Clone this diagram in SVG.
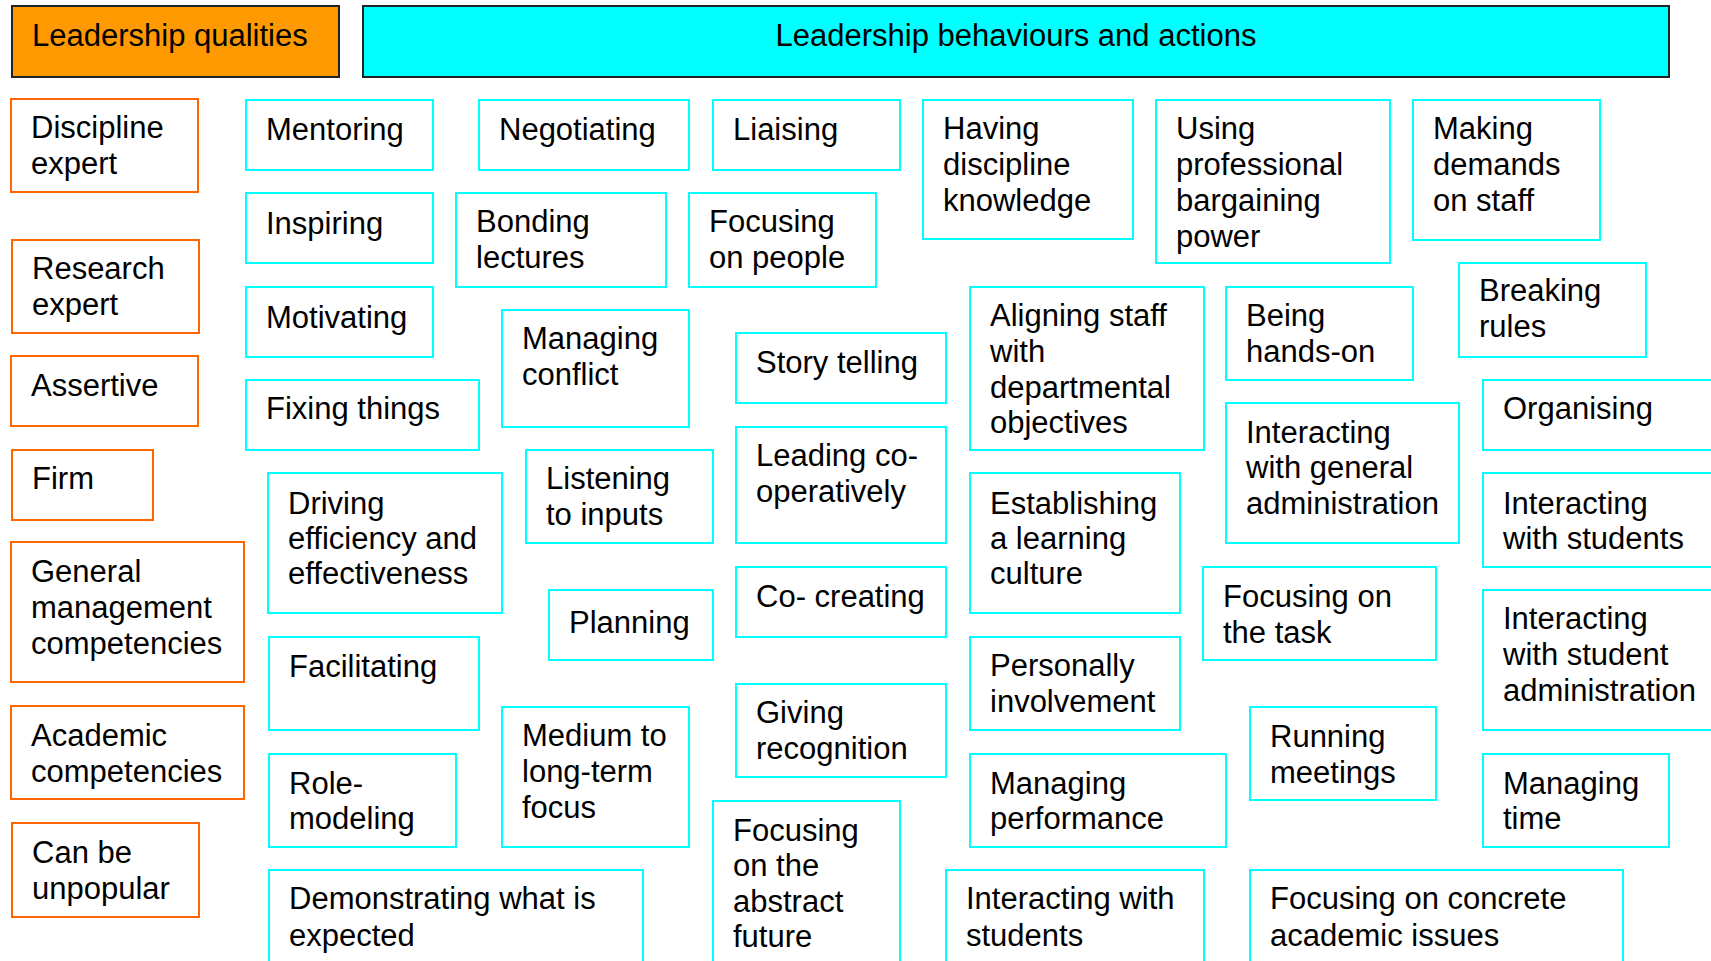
<svg xmlns="http://www.w3.org/2000/svg" width="1711" height="961" viewBox="0 0 1711 961">
<style>
.q{fill:#fff;stroke:#ff6600;stroke-width:2}
.b{fill:#fff;stroke:#00ffff;stroke-width:2}
.h{stroke:#222;stroke-width:2}
text{font-family:"Liberation Sans",Arial,sans-serif;font-size:31px;fill:#000;transform:translateY(1px)}
</style>
<rect width="1711" height="961" fill="#fff"/>
<g id="hdr-qualities"><rect class="h" x="12" y="6" width="327" height="71" fill="#ff9900"/><text x="32" y="45">Leadership qualities</text></g>
<g id="hdr-behaviours"><rect class="h" x="363" y="6" width="1306" height="71" fill="#00ffff"/><text x="1016" y="45" text-anchor="middle">Leadership behaviours and actions</text></g>

<g id="q1"><rect class="q" x="11" y="99" width="187" height="93"/><text x="31" y="137">Discipline<tspan x="31" y="173">expert</tspan></text></g>
<g id="q2"><rect class="q" x="12" y="240" width="187" height="93"/><text x="32" y="278">Research<tspan x="32" y="314">expert</tspan></text></g>
<g id="q3"><rect class="q" x="11" y="356" width="187" height="70"/><text x="31" y="395">Assertive</text></g>
<g id="q4"><rect class="q" x="12" y="450" width="141" height="70"/><text x="32" y="488">Firm</text></g>
<g id="q5"><rect class="q" x="11" y="542" width="233" height="140"/><text x="31" y="581">General<tspan x="31" y="617">management</tspan><tspan x="31" y="653">competencies</tspan></text></g>
<g id="q6"><rect class="q" x="11" y="706" width="233" height="93"/><text x="31" y="745">Academic<tspan x="31" y="781">competencies</tspan></text></g>
<g id="q7"><rect class="q" x="12" y="823" width="187" height="94"/><text x="32" y="862">Can be<tspan x="32" y="898">unpopular</tspan></text></g>

<g id="b-mentoring"><rect class="b" x="246" y="100" width="187" height="70"/><text x="266" y="139">Mentoring</text></g>
<g id="b-inspiring"><rect class="b" x="246" y="193" width="187" height="70"/><text x="266" y="233">Inspiring</text></g>
<g id="b-motivating"><rect class="b" x="246" y="287" width="187" height="70"/><text x="266" y="327">Motivating</text></g>
<g id="b-fixing"><rect class="b" x="246" y="380" width="233" height="70"/><text x="266" y="418">Fixing things</text></g>
<g id="b-driving"><rect class="b" x="268" y="473" width="234" height="140"/><text x="288" y="513">Driving<tspan x="288" y="548">efficiency and</tspan><tspan x="288" y="583">effectiveness</tspan></text></g>
<g id="b-facilitating"><rect class="b" x="269" y="637" width="210" height="93"/><text x="289" y="676">Facilitating</text></g>
<g id="b-rolemodeling"><rect class="b" x="269" y="754" width="187" height="93"/><text x="289" y="793">Role-<tspan x="289" y="828">modeling</tspan></text></g>
<g id="b-demonstrating"><rect class="b" x="269" y="870" width="374" height="110"/><text x="289" y="908">Demonstrating what is<tspan x="289" y="945">expected</tspan></text></g>

<g id="b-negotiating"><rect class="b" x="479" y="100" width="210" height="70"/><text x="499" y="139">Negotiating</text></g>
<g id="b-bonding"><rect class="b" x="456" y="193" width="210" height="94"/><text x="476" y="231">Bonding<tspan x="476" y="267">lectures</tspan></text></g>
<g id="b-conflict"><rect class="b" x="502" y="310" width="187" height="117"/><text x="522" y="348">Managing<tspan x="522" y="384">conflict</tspan></text></g>
<g id="b-listening"><rect class="b" x="526" y="450" width="187" height="93"/><text x="546" y="488">Listening<tspan x="546" y="524">to inputs</tspan></text></g>
<g id="b-planning"><rect class="b" x="549" y="590" width="164" height="70"/><text x="569" y="632">Planning</text></g>
<g id="b-medium"><rect class="b" x="502" y="707" width="187" height="140"/><text x="522" y="745">Medium to<tspan x="522" y="781">long-term</tspan><tspan x="522" y="817">focus</tspan></text></g>

<g id="b-liaising"><rect class="b" x="713" y="100" width="187" height="70"/><text x="733" y="139">Liaising</text></g>
<g id="b-focpeople"><rect class="b" x="689" y="193" width="187" height="94"/><text x="709" y="231">Focusing<tspan x="709" y="267">on people</tspan></text></g>
<g id="b-story"><rect class="b" x="736" y="333" width="210" height="70"/><text x="756" y="372">Story telling</text></g>
<g id="b-leading"><rect class="b" x="736" y="427" width="210" height="116"/><text x="756" y="465">Leading co-<tspan x="756" y="501">operatively</tspan></text></g>
<g id="b-cocreating"><rect class="b" x="736" y="567" width="210" height="70"/><text x="756" y="606">Co- creating</text></g>
<g id="b-giving"><rect class="b" x="736" y="684" width="210" height="93"/><text x="756" y="722">Giving<tspan x="756" y="758">recognition</tspan></text></g>
<g id="b-abstract"><rect class="b" x="713" y="801" width="187" height="180"/><text x="733" y="840">Focusing<tspan x="733" y="875">on the</tspan><tspan x="733" y="911">abstract</tspan><tspan x="733" y="946">future</tspan></text></g>

<g id="b-having"><rect class="b" x="923" y="100" width="210" height="139"/><text x="943" y="138">Having<tspan x="943" y="174">discipline</tspan><tspan x="943" y="210">knowledge</tspan></text></g>
<g id="b-aligning"><rect class="b" x="970" y="287" width="234" height="163"/><text x="990" y="325">Aligning staff<tspan x="990" y="361">with</tspan><tspan x="990" y="397">departmental</tspan><tspan x="990" y="432">objectives</tspan></text></g>
<g id="b-establishing"><rect class="b" x="970" y="473" width="210" height="140"/><text x="990" y="513">Establishing<tspan x="990" y="548">a learning</tspan><tspan x="990" y="583">culture</tspan></text></g>
<g id="b-personally"><rect class="b" x="970" y="637" width="210" height="93"/><text x="990" y="675">Personally<tspan x="990" y="711">involvement</tspan></text></g>
<g id="b-performance"><rect class="b" x="970" y="754" width="256" height="93"/><text x="990" y="793">Managing<tspan x="990" y="828">performance</tspan></text></g>
<g id="b-intstudents2"><rect class="b" x="946" y="870" width="258" height="110"/><text x="966" y="908">Interacting with<tspan x="966" y="945">students</tspan></text></g>

<g id="b-using"><rect class="b" x="1156" y="100" width="234" height="163"/><text x="1176" y="138">Using<tspan x="1176" y="174">professional</tspan><tspan x="1176" y="210">bargaining</tspan><tspan x="1176" y="246">power</tspan></text></g>
<g id="b-being"><rect class="b" x="1226" y="287" width="187" height="93"/><text x="1246" y="325">Being<tspan x="1246" y="361">hands-on</tspan></text></g>
<g id="b-genadmin"><rect class="b" x="1226" y="403" width="233" height="140"/><text x="1246" y="442">Interacting<tspan x="1246" y="477">with general</tspan><tspan x="1246" y="513">administration</tspan></text></g>
<g id="b-task"><rect class="b" x="1203" y="567" width="233" height="93"/><text x="1223" y="606">Focusing on<tspan x="1223" y="642">the task</tspan></text></g>
<g id="b-meetings"><rect class="b" x="1250" y="707" width="186" height="93"/><text x="1270" y="746">Running<tspan x="1270" y="782">meetings</tspan></text></g>
<g id="b-concrete"><rect class="b" x="1250" y="870" width="373" height="110"/><text x="1270" y="908">Focusing on concrete<tspan x="1270" y="945">academic issues</tspan></text></g>

<g id="b-making"><rect class="b" x="1413" y="100" width="187" height="140"/><text x="1433" y="138">Making<tspan x="1433" y="174">demands</tspan><tspan x="1433" y="210">on staff</tspan></text></g>
<g id="b-breaking"><rect class="b" x="1459" y="263" width="187" height="94"/><text x="1479" y="300">Breaking<tspan x="1479" y="336">rules</tspan></text></g>
<g id="b-organising"><rect class="b" x="1483" y="380" width="250" height="70"/><text x="1503" y="418">Organising</text></g>
<g id="b-intstudents"><rect class="b" x="1483" y="473" width="250" height="94"/><text x="1503" y="513">Interacting<tspan x="1503" y="548">with students</tspan></text></g>
<g id="b-studadmin"><rect class="b" x="1483" y="590" width="250" height="140"/><text x="1503" y="628">Interacting<tspan x="1503" y="664">with student</tspan><tspan x="1503" y="700">administration</tspan></text></g>
<g id="b-time"><rect class="b" x="1483" y="754" width="186" height="93"/><text x="1503" y="793">Managing<tspan x="1503" y="828">time</tspan></text></g>
<g id="connectors"></g>
</svg>
